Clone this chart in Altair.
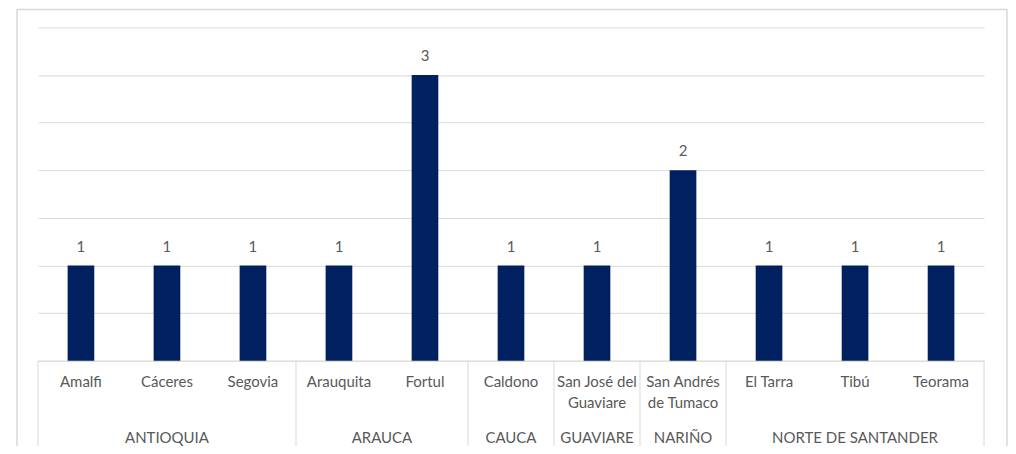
import altair as alt
import pandas as pd

municipios = ["Amalfi", "Cáceres", "Segovia", "Arauquita", "Fortul", "Caldono",
              "San José del Guaviare", "San Andrés de Tumaco", "El Tarra", "Tibú", "Teorama"]
departamentos = ["ANTIOQUIA", "ANTIOQUIA", "ANTIOQUIA", "ARAUCA", "ARAUCA", "CAUCA",
                 "GUAVIARE", "NARIÑO", "NORTE DE SANTANDER", "NORTE DE SANTANDER", "NORTE DE SANTANDER"]
valores = [1, 1, 1, 1, 3, 1, 1, 2, 1, 1, 1]
saltos = {"San José del Guaviare": ["San José del", "Guaviare"],
          "San Andrés de Tumaco": ["San Andrés", "de Tumaco"]}

W, H = 948, 334
FONT = "Lato"
FS = 15
TXT = "#595959"
GRID = "#d9d9d9"
BAR = "#002060"

df = pd.DataFrame({"mun": municipios, "dep": departamentos, "val": valores})

groups = []
start = 0
for i in range(1, len(departamentos) + 1):
    if i == len(departamentos) or departamentos[i] != departamentos[start]:
        groups.append({"dep": departamentos[start], "a": start, "b": i, "mid": (start + i) / 2})
        start = i
gdf = pd.DataFrame(groups)
bounds = pd.DataFrame({"x": [0] + [g["b"] for g in groups]})

label_expr = ""
for k, v in saltos.items():
    label_expr += f"datum.label == '{k}' ? {v} : "
label_expr += "datum.label"

noview = alt.ViewBackground(strokeWidth=0, stroke="transparent")

xband = alt.X("mun:N", sort=municipios,
              scale=alt.Scale(paddingInner=0.69, paddingOuter=0.345),
              axis=alt.Axis(title=None, ticks=False, domain=True, domainColor=GRID,
                            domainWidth=1, labelAngle=0, labelFont=FONT, labelFontSize=FS,
                            labelColor=TXT, labelPadding=14, labelBaseline="top",
                            labelLineHeight=21, labelExpr=label_expr, grid=False))
yq = alt.Y("val:Q", scale=alt.Scale(domain=[0, 3.5], nice=False),
           axis=alt.Axis(title=None, labels=False, ticks=False, domain=False,
                         values=[0, 0.5, 1, 1.5, 2, 2.5, 3, 3.5], gridColor=GRID, gridWidth=1))

bars = alt.Chart(df).mark_bar(color=BAR).encode(x=xband, y=yq)
vals = alt.Chart(df).mark_text(font=FONT, fontSize=FS, color=TXT, baseline="bottom", dy=-11).encode(
    x=alt.X("mun:N", sort=municipios), y="val:Q", text="val:Q")
main = alt.layer(bars, vals).properties(view=noview)

xq = alt.X("x:Q", scale=alt.Scale(domain=[0, len(municipios)], nice=False, zero=False), axis=None)

deps = alt.Chart(gdf).mark_text(font=FONT, fontSize=FS, color=TXT, baseline="middle").encode(
    x=alt.X("mid:Q", scale=alt.Scale(domain=[0, len(municipios)], nice=False, zero=False), axis=None),
    y=alt.value(H + 77), text="dep:N")
seps = alt.Chart(bounds).mark_rule(color=GRID, strokeWidth=1).encode(
    x=xq, y=alt.value(H), y2=alt.value(H + 90))

one = pd.DataFrame({"a": [0]})
frame_top = alt.Chart(one).mark_rule(color=GRID, strokeWidth=1.5).encode(
    x=alt.value(-21), x2=alt.value(971), y=alt.value(-18))
frame_left = alt.Chart(one).mark_rule(color=GRID, strokeWidth=1.5).encode(
    x=alt.value(-21), y=alt.value(-18), y2=alt.value(H + 90))
frame_right = alt.Chart(one).mark_rule(color=GRID, strokeWidth=1.5).encode(
    x=alt.value(971), y=alt.value(-18), y2=alt.value(H + 90))

chart = alt.layer(main, deps, seps, frame_top, frame_left, frame_right).resolve_scale(
    x="independent").properties(
    width=W, height=H,
    view=noview,
    autosize=alt.AutoSizeParams(type="none"),
    padding={"left": 30, "top": 19, "right": 24, "bottom": 85},
).configure_view(strokeWidth=0, stroke="transparent").configure(background="white")

chart.save("out.html", embed_options={"renderer": "svg", "actions": False})
